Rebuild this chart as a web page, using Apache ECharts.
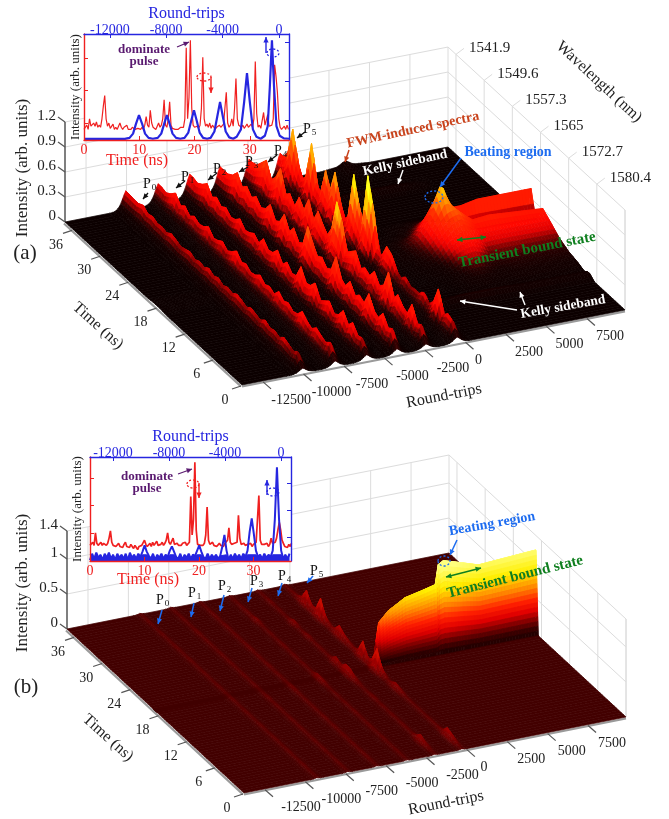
<!DOCTYPE html>
<html><head><meta charset="utf-8">
<style>html,body{margin:0;padding:0;background:#fff}#c{width:669px;height:819px}</style>
<script src="https://cdn.jsdelivr.net/npm/echarts@6/dist/echarts.min.js"></script>
</head><body><div id="c"></div>
<script>
// ---------- tick labels ----------
const timeTicks=[0,6,12,18,24,30,36];
const rtTicks=[-12500,-10000,-7500,-5000,-2500,0,2500,5000,7500];
const wavelengthLabels=['1541.9','1549.6','1557.3','1565','1572.7','1580.4'];
const wavelengthTimes=[36,30,24,18,12,6];
const intensityTicksA=[0,0.3,0.6,0.9,1.2];
const intensityTicksB=[0,0.5,1,1.4];
// ---------- panel (a): pulse position (round-trips) and intensity at t = 0..37 ns ----------
const ridgeRtA=[-10050,-8050,-6100,-4230,-2440,-520];
const ridgeA1=[.06,.2,.16,.19,.22,.17,.2,.18,.22,.17,.19,.21,.17,.2,.22,.18,.2,.17,.21,.18,.22,.18,.2,.17,.21,.19,.17,.2,.22,.18,.2,.19,.22,.2,.25,.22,.22,.23];
const ridgeA2=[.07,.24,.19,.22,.26,.2,.24,.3,.22,.2,.25,.22,.28,.2,.24,.21,.27,.22,.2,.25,.22,.3,.24,.2,.26,.22,.2,.28,.23,.21,.25,.2,.27,.22,.32,.26,.22,.24];
const ridgeA3=[.07,.22,.2,.3,.22,.34,.24,.2,.3,.25,.2,.36,.28,.26,.4,.24,.22,.3,.22,.34,.26,.24,.32,.22,.28,.24,.22,.3,.24,.22,.28,.24,.3,.25,.36,.3,.26,.28];
const ridgeA4=[.07,.26,.22,.34,.24,.28,.42,.26,.3,.24,.36,.26,.3,.5,.3,.26,.34,.3,.42,.55,.3,.26,.38,.28,.44,.3,.26,.4,.3,.26,.34,.28,.36,.3,.42,.34,.3,.3];
const ridgeA5=[.06,.24,.2,.38,.22,.26,.34,.24,.5,.3,.24,.36,.26,.3,.24,.4,.34,.28,.62,.78,.42,.28,.36,.46,.3,.5,.32,.42,.26,.36,.3,.55,.4,.32,.5,.42,.34,.32];
const ridgeA6=[.07,.22,.25,.18,.44,.24,.16,.22,.15,.18,.16,.22,.16,.2,.34,.38,.22,.24,.74,1.02,.4,.6,.88,.34,.24,.42,.7,.44,.62,.3,.36,.76,.34,.26,.42,.75,.42,.32];
// cross-section of a pulse ridge (offsets of 200 round-trips)
const pulseProfile=[0,.03,.08,.16,.3,.52,.8,1,.8,.52,.3,.16,.08,.03,0];
// transient hump and the two bound-state bars of panel (a)
const humpT=[8,10,12,14,16,17.5,19,20,21,22.5,25];
const humpRt=[500,1500,2500,3000,3500,4000,4500,5000,5500,6500,9850];
const humpRows=[
 [0,0,0,0,0,0,0,0,0,0,0],
 [0,0,0,.02,.03,.04,.04,.03,.03,.05,.05],
 [0,0,.01,.04,.08,.1,.1,.08,.07,.08,.08],
 [0,.01,.04,.1,.18,.22,.24,.2,.14,.15,.14],
 [0,.03,.1,.18,.28,.36,.4,.34,.25,.25,.24],
 [.01,.05,.13,.24,.38,.48,.5,.42,.34,.36,.31],
 [.01,.06,.16,.28,.46,.76,.5,.38,.14,.12,.1],
 [0,.05,.13,.22,.38,.54,.44,.38,.38,.42,.42],
 [0,.03,.07,.14,.22,.28,.24,.2,.18,.2,.2],
 [0,0,.03,.06,.1,.12,.1,.08,.06,.04,.03],
 [0,0,0,0,0,0,0,0,0,0,0]];
const kellyFrontRt=[-3000,0,2000,4000,6000,9850], kellyFrontAmp=[0,.05,.09,.09,.07,.06];
const kellyBackRt=[-3000,0,2500,5000,7000], kellyBackAmp=[0,.04,.08,.07,0];
const fwmRt=[2000,3000,3500,4000,5000], fwmAmp=[0,.02,.08,.02,0];
// ---------- panel (b) ----------
const ridgeRtB=[-9290,-7380,-5590,-3735,-2000,-340];
const ridgeB1=[.012,.015,.015,.02,.015,.015,.02,.015,.015,.02,.015,.015,.02,.015,.015,.02,.015,.015,.02,.015,.015,.02,.015,.015,.02,.015,.015,.02,.015,.015,.02,.015,.015,.02,.015,.015,.02,.015];
const ridgeB2=[.012,.015,.02,.015,.015,.02,.015,.02,.015,.015,.02,.015,.02,.015,.015,.02,.015,.025,.015,.015,.02,.015,.02,.015,.015,.02,.015,.02,.015,.015,.02,.015,.025,.015,.015,.02,.015,.015];
const ridgeB3=[.012,.015,.02,.02,.015,.02,.015,.02,.015,.02,.015,.025,.015,.02,.015,.02,.015,.025,.03,.02,.015,.02,.015,.025,.015,.02,.015,.025,.02,.015,.02,.015,.025,.015,.02,.02,.015,.015];
const ridgeB4=[.012,.015,.02,.015,.015,.02,.015,.015,.02,.015,.015,.025,.015,.02,.015,.02,.015,.02,.05,.06,.02,.015,.02,.015,.02,.015,.025,.02,.015,.02,.015,.02,.05,.02,.025,.02,.015,.015];
const ridgeB5=[.012,.02,.05,.11,.04,.015,.02,.02,.015,.02,.015,.02,.015,.03,.02,.015,.02,.05,.12,.12,.04,.1,.03,.015,.02,.02,.015,.04,.02,.015,.07,.02,.015,.02,.015,.03,.015,.015];
const ridgeB6=[.012,.03,.1,.13,.04,.02,.02,.02,.015,.02,.015,.02,.02,.05,.09,.04,.02,.12,.33,.12,.07,.25,.07,.03,.05,.1,.16,.06,.03,.1,.3,.1,.08,.23,.08,.03,.02,.02];
// crest of the transient bound-state wall in panel (b)
const wallRt=[-250,130,720,1760,2755,3630,3820,4130,5240,6300,9850];
const wallCrest=[0,.6,.74,.88,.93,.98,1.26,1.3,1.22,1.14,1.19];
// ---------- insets ----------
const insetTimeTicks=[0,10,20,30], insetRtTicks=[-12000,-8000,-4000,0];
const redA=[.1,.12,.14,.1, .2,.13,.12,.16, .13,.17,.12,.14, .12,.2,.32,.42, .2,.13,.16,.11, .12,.15,.1,.12, .1,.13,.16,.12, .1,.12,.11,.14, .1,.11,.1,.12, .11,.1,.09,.11, .11,.1,.12,.1, .14,.22,.14,.12, .28,.16,.12,.11, .1,.13,.16,.12, .14,.2,.38,.14, .12,.2,.36,.14, .11,.12,.1,.11, .1,.11,.12,.11, .12,.2,.87,.2, .4,.94,.3,.14, .12,.11,.13,.11, .14,.3,.78,.2, .13,.15,.12,.16, .11,.14,.12,.1, .12,.11,.14,.12, .13,.15,.3,.45, .16,.12,.14,.2, .13,.3,.58,.2, .14,.13,.12,.14, .11,.13,.15,.12, .13,.15,.12,.2, .74,.25,.12,.14, .11,.12,.26,.14, .13,.24,.13,.12, .14,.2,.71,.6, .45,.2,.12,.1, .11,.13,.1,.14, .1];
const blueARt=[-13830,-10930,-10600,-10350,-10150,-9930,-9700,-9500,-9250,-8950,-8600,-8350,-8150,-7950,-7750,-7550,-7300,-7000,-6700,-6430,-6230,-6030,-5830,-5630,-5380,-5100,-4850,-4580,-4380,-4180,-3980,-3780,-3530,-3250,-3000,-2700,-2470,-2270,-2070,-1850,-1600,-1300,-1000,-800,-650,-500,-350,-180,50,350,710];
const blueAI=[.01,.01,.02,.06,.15,.235,.15,.06,.02,.012,.02,.06,.15,.235,.15,.06,.02,.012,.02,.07,.18,.28,.18,.07,.02,.012,.02,.08,.22,.36,.22,.08,.025,.012,.03,.1,.36,.63,.36,.1,.03,.012,.04,.13,.5,.94,.5,.13,.04,.015,.012];
const redB=[.15,.16,.18,.15, .27,.17,.15,.16, .18,.15,.17,.16, .15,.17,.22,.29, .18,.15,.16,.14, .15,.17,.14,.15, .13,.16,.18,.14, .15,.13,.16,.14, .12,.15,.13,.11, .14,.13,.15,.16, .2,.16,.14,.15, .17,.14,.18,.15, .16,.19,.15,.14, .16,.18,.15,.17, .2,.27,.18,.16, .17,.22,.16,.15, .17,.15,.16,.15, .17,.16,.18,.15, .16,.18,.62,.25, .4,.95,.3,.16, .17,.15,.16,.15, .17,.25,.52,.2, .16,.15,.18,.15, .16,.14,.15,.17, .15,.16,.14,.17, .16,.2,.32,.18, .16,.15,.17,.16, .18,.44,.22,.16, .15,.17,.15,.14, .16,.15,.17,.14, .16,.15,.18,.17, .63,.2,.16,.15, .16,.15,.17,.14, .16,.22,.17,.16, .18,.22,.3,.37, .3,.2,.17,.14, .15,.13,.16,.14, .17];
const blueBI=[.01,.07,.02,.08,.03,.06,.01,.07,.03,.08,.02,.06,.01,.07,.03,.06,.02,.07,.01,.08,.03,.06,.02,.07,.04,.09,.15,.09,.05,.02,.07,.01,.06,.03,.07,.02,.06,.04,.1,.14,.09,.04,.02,.07,.01,.06,.03,.07,.02,.06,.05,.1,.15,.09,.04,.02,.07,.02,.06,.03,.06,.02,.05,.14,.25,.1,.01,.06,.02,.07,.03,.06,.02,.07,.04,.1,.28,.41,.26,.1,.04,.06,.02,.07,.03,.06,.04,.1,.4,.9,.4,.1,.02,.06,.02,.07];
// height of the solid noise floor of the blue trace in inset (b)
const blueBFloor=.06;

// ---------- layout and scales ----------
const FONT='"Liberation Serif","Times New Roman",serif';
const RT_MIN=-13800, RT_MAX=9850, T_MAX=37.7;
const panelA={ox:242,oy:385,ax:383,ay:75,bx:177,by:163,zs:83.3,zTop:1.2};
const panelB={ox:244,oy:793,ax:382,ay:76,bx:177,by:164,zs:70,zTop:1.4};
function project(p,t,rt,z){const a=(rt-RT_MIN)/(RT_MAX-RT_MIN),b=t/T_MAX;return [p.ox+a*p.ax-b*p.bx,p.oy-a*p.ay-b*p.by-z*p.zs];}
function lerp1(xs,ys,x){if(x<=xs[0])return ys[0];const n=xs.length-1;if(x>=xs[n])return ys[n];let i=0;while(x>xs[i+1])i++;return ys[i]+(ys[i+1]-ys[i])*(x-xs[i])/(xs[i+1]-xs[i]);}
function sampleByNs(arr,t){const i=Math.min(Math.floor(t),arr.length-1),j=Math.min(i+1,arr.length-1);return arr[i]+(arr[j]-arr[i])*(t-i);}
function profileAt(d){const k=d/200+7;if(k<=0||k>=14)return 0;const i=Math.floor(k);return pulseProfile[i]+(pulseProfile[i+1]-pulseProfile[i])*(k-i);}
function humpAt(t,rt){if(t<=humpT[0]||t>=humpT[humpT.length-1])return 0;const col=humpRows.map(r=>lerp1(humpRt,r,rt));return lerp1(humpT,col,t);}
const ridgesA=[ridgeA1,ridgeA2,ridgeA3,ridgeA4,ridgeA5,ridgeA6];
const ridgesB=[ridgeB1,ridgeB2,ridgeB3,ridgeB4,ridgeB5,ridgeB6];
function zA(t,rt){let z=0;
  ridgesA.forEach((r,i)=>{const p=profileAt((rt-ridgeRtA[i])*1.7);if(p>0)z+=p*sampleByNs(r,t);});
  const kf=Math.max(0,1-Math.abs(t-7.7)/1.2),kb=Math.max(0,1-Math.abs(t-31.3)/1.2);
  if(kf>0)z+=kf*lerp1(kellyFrontRt,kellyFrontAmp,rt);
  if(kb>0)z+=kb*lerp1(kellyBackRt,kellyBackAmp,rt);
  if(t>34)z+=(t-34)/3.7*lerp1(fwmRt,fwmAmp,rt);
  const h=humpAt(t,rt);return Math.max(z,h);}
function wallFrac(t){return lerp1([18.7,19.15,19.25,19.5],[0,1,1,0],t);}
function zB(t,rt){let z=0;
  ridgesB.forEach((r,i)=>{const p=profileAt((rt-ridgeRtB[i])*3.5);if(p>0)z+=p*sampleByNs(r,t);});
  if(rt>-250&&t>18.7&&t<19.5)z=Math.max(z,wallFrac(t)*lerp1(wallRt,wallCrest,rt));
  return z;}
function makeMap(st){const c=st.map(s=>[s[0],parseInt(s[1].slice(1,3),16),parseInt(s[1].slice(3,5),16),parseInt(s[1].slice(5,7),16)]);
  return z=>{if(z<=c[0][0])return st[0][1];let i=0;const n=c.length-1;if(z>=c[n][0])return st[n][1];while(z>c[i+1][0])i++;const f=(z-c[i][0])/(c[i+1][0]-c[i][0]);
    return 'rgb('+[1,2,3].map(k=>Math.round(c[i][k]+(c[i+1][k]-c[i][k])*f)).join(',')+')';};}
const colorA=makeMap([[0,'#0c0000'],[.06,'#140000'],[.1,'#2a0000'],[.15,'#780000'],[.2,'#e00000'],[.26,'#ff0800'],[.42,'#ff2c00'],[.55,'#ff8000'],[.68,'#ffc800'],[.8,'#ffff00'],[1.05,'#ffff60']]);
const colorB=makeMap([[0,'#420000'],[.015,'#5c0000'],[.03,'#6c0000'],[.06,'#800000'],[.12,'#a00000'],[.25,'#d01000'],[.4,'#ff2000']]);
const colorWall=makeMap([[0,'#340000'],[.05,'#1c0000'],[.2,'#700000'],[.35,'#e00000'],[.5,'#ff2000'],[.7,'#ff9000'],[.92,'#ffee00'],[1.22,'#ffff80']]);
function rtColumns(extra){const s=new Set();for(let r=RT_MIN;r<RT_MAX;r+=197)s.add(r);s.add(RT_MAX);extra.forEach(v=>s.add(v));return [...s].sort((a,b)=>a-b);}
function buildCells(zf,tRows,cols,colorOf){const cells=[];
  for(let i=tRows.length-2;i>=0;i--){const t0=tRows[i],t1=tRows[i+1];
    let j=cols.length-2;
    while(j>=0){
      let r1=cols[j+1],r0=cols[j];
      const z11=zf(t1,r1),z01=zf(t0,r1);let z10=zf(t1,r0),z00=zf(t0,r0);
      if(z11===0&&z01===0&&z10===0&&z00===0){while(j>0&&zf(t1,cols[j-1])===0&&zf(t0,cols[j-1])===0){j--;}r0=cols[j];}
      const avg=(z00+z01+z10+z11)/4;
      cells.push({t0,t1,r0,r1,z00,z01,z10,z11,c:colorOf(avg,t0,t1,r0)});
      j--;}
  }return cells;}
const rowsA=[];for(let t=0;t<37.5;t+=.5)rowsA.push(t);rowsA.push(T_MAX);
const rowsB=[];for(let t=0;t<18.6;t+=.5)rowsB.push(t);for(let t=18.6;t<19.3;t+=.025)rowsB.push(+t.toFixed(3));for(let t=19.5;t<37.5;t+=.5)rowsB.push(t);rowsB.push(T_MAX);
function denser(centres,reach,step){const o=[];centres.forEach(c=>{for(let d=-reach;d<=reach;d+=step)o.push(c+d);});return o;}
const cellsA=buildCells(zA,rowsA,rtColumns(denser(ridgeRtA,800,100)),z=>colorA(z));
const cellsB=buildCells(zB,rowsB,rtColumns(denser(ridgeRtB,400,100).concat(wallRt)),(z,t0,t1,r0)=>(t0>=18.6&&t1<=19.35&&r0>-260)?colorWall(z):colorB(z));

function surfaceSeries(p,cells){return {type:'custom',coordinateSystem:'cartesian2d',xAxisIndex:0,yAxisIndex:0,z:2,silent:true,clip:false,progressive:0,animation:false,
  data:cells.map((c,i)=>[i]),
  renderItem(params,api){const c=cells[params.dataIndex];
    const pts=[project(p,c.t0,c.r0,c.z00),project(p,c.t0,c.r1,c.z01),project(p,c.t1,c.r1,c.z11),project(p,c.t1,c.r0,c.z10)].map(q=>api.coord(q));
    return {type:'polygon',shape:{points:pts},style:{fill:c.c,stroke:c.c,lineWidth:.7}};}};}

function frameItems(p,zTicks,opt){const items=[];const W='#dcdcdc',D='#555',G='#9a9a9a';
  const seg=(a,b,col,w)=>items.push({seg:[a,b],col,w});
  const txt=(q,text,size,align,col)=>items.push({q,text,size,align,col:col||'#222'});
  zTicks.forEach(v=>{seg(project(p,T_MAX,RT_MIN,v),project(p,T_MAX,RT_MAX,v),W,1);seg(project(p,T_MAX,RT_MAX,v),project(p,0,RT_MAX,v),W,1);});
  rtTicks.forEach(r=>seg(project(p,T_MAX,r,0),project(p,T_MAX,r,p.zTop),W,1));
  seg(project(p,T_MAX,RT_MAX,0),project(p,T_MAX,RT_MAX,p.zTop),W,1);
  timeTicks.forEach(t=>seg(project(p,t,RT_MAX,0),project(p,t,RT_MAX,p.zTop),W,1));
  seg(project(p,0,RT_MAX,0),project(p,0,RT_MAX,p.zTop),W,1);
  seg(project(p,T_MAX,RT_MIN,0),project(p,T_MAX,RT_MIN,p.zTop),D,1.5);
  zTicks.forEach(v=>{const q=project(p,T_MAX,RT_MIN,v);seg(q,[q[0]-7,q[1]-5],D,1.2);txt([q[0]-9,q[1]-6],String(v),15,'right');});
  const a0=project(p,0,RT_MIN,0),a1=project(p,0,RT_MAX,0),a2=project(p,T_MAX,RT_MIN,0);
  seg([a0[0],a0[1]+1.5],[a1[0],a1[1]+1.5],G,2.2);
  seg([a0[0]-1,a0[1]+1.5],[a2[0]-1,a2[1]+1.5],G,2.2);
  timeTicks.forEach(t=>{const q=project(p,t,RT_MIN,0);seg([q[0]-1,q[1]+1],[q[0]-10,q[1]+4],D,1.2);txt([q[0]-17,q[1]+15.5],String(t),14,'center');});
  rtTicks.forEach(r=>{const q=project(p,0,r,0);seg([q[0],q[1]+1],[q[0]+8,q[1]+8],D,1.2);
    const dx=r===0?opt.dx0:(r<0?opt.dxNeg:opt.dxPos);txt([q[0]+dx,q[1]+19],String(r),14,'center');});
  if(opt.wave)wavelengthLabels.forEach((l,i)=>{const q=project(p,wavelengthTimes[i],RT_MAX,p.zTop);seg(q,[q[0]+8,q[1]-6],W,1);txt([q[0]+13,q[1]-6],l,15,'left');});
  return items;}
function frameSeries(items){return {type:'custom',coordinateSystem:'cartesian2d',xAxisIndex:0,yAxisIndex:0,z:1,silent:true,clip:false,animation:false,progressive:0,
  data:items.map((c,i)=>[i]),
  renderItem(params,api){const it=items[params.dataIndex];
    if(it.seg){const a=api.coord(it.seg[0]),b=api.coord(it.seg[1]);return {type:'line',shape:{x1:a[0],y1:a[1],x2:b[0],y2:b[1]},style:{stroke:it.col,lineWidth:it.w}};}
    const q=api.coord(it.q);return {type:'text',x:q[0],y:q[1],style:{text:it.text,fill:it.col,font:it.size+'px '+FONT,align:it.align,verticalAlign:'middle',textAlign:it.align,textVerticalAlign:'middle'}};}};}

// ---------- annotations ----------
const gfx=[];
function T(x,y,s,size,col,opt){opt=opt||{};gfx.push({type:'text',x,y,rotation:(opt.rot||0)*Math.PI/180,z:20,silent:true,style:{text:s,fill:col,font:(opt.bold?'bold ':'')+size+'px '+FONT,align:'center',verticalAlign:'middle',textAlign:'center',textVerticalAlign:'middle'}});}
function head(x,y,ang,col,s){gfx.push({type:'polygon',z:20,silent:true,shape:{points:[[x,y],[x-s*Math.cos(ang-.45),y-s*Math.sin(ang-.45)],[x-s*Math.cos(ang+.45),y-s*Math.sin(ang+.45)]]},style:{fill:col}});}
function A(x1,y1,x2,y2,col,w,dbl,s){s=s||6;const ang=Math.atan2(y2-y1,x2-x1);gfx.push({type:'line',z:20,silent:true,shape:{x1,y1,x2,y2},style:{stroke:col,lineWidth:w||1.3}});head(x2,y2,ang,col,s);if(dbl)head(x1,y1,ang+Math.PI,col,s);}
function E(cx,cy,rx,ry,col){gfx.push({type:'ellipse',z:20,silent:true,shape:{cx,cy,rx,ry},style:{fill:'transparent',stroke:col,lineWidth:1.3,lineDash:[2,2]}});}
function P(x,y,n){T(x,y,'P',14,'#111');T(x+7,y+4,String(n),9,'#111');}
const PURPLE='#5a1a70',GREEN='#0f7f1f',BLUE='#1d6cf0',RED='#f02020',IBLUE='#2626e0',BROWN='#c9431c';
T(25,253,'(a)',21,'#222');T(26,687,'(b)',21,'#222');
T(23,168,'Intensity (arb. units)',17,'#222',{rot:90});T(23,583,'Intensity (arb. units)',17,'#222',{rot:90});
T(98,326,'Time (ns)',16,'#222',{rot:-42});T(108,738,'Time (ns)',16,'#222',{rot:-42});
T(444,396,'Round-trips',16,'#222',{rot:11});T(446,803,'Round-trips',16,'#222',{rot:11});
T(599,82,'Wavelength (nm)',16,'#222',{rot:-43});
T(137,161,'Time (ns)',16,RED);T(148,580,'Time (ns)',16,RED);
[[150,184,0,148,193,143,199],[188,177,1,185,181,176,188],[220,169,2,217,173,208,180],[252,162,3,248,167,239,172],[281,151,4,277,155,268,162],[310,129,5,305,132,297,138]].forEach(a=>{P(a[0]-3,a[1],a[2]);A(a[3],a[4],a[5],a[6],'#111',1.3);});
[[163,600,0,162,610,158,624],[195,593,1,194,603,191,617],[225,586,2,224,595,220,611],[257,581,3,252,588,248,602],[285,576,4,282,583,278,596],[317,571,5,313,576,307,583]].forEach(a=>{P(a[0]-3,a[1],a[2]);A(a[3],a[4],a[5],a[6],BLUE,1.5);});
T(144,50,'dominate',13,PURPLE,{bold:true});T(144,62,'pulse',13,PURPLE,{bold:true});A(177,47,189,42,PURPLE,1.2);
E(204,77,7,4,RED);A(211,77,211,93,RED,1.4);E(273,53,6,4,IBLUE);A(266,53,266,37,IBLUE,1.4);
T(147,477,'dominate',13,PURPLE,{bold:true});T(147,489,'pulse',13,PURPLE,{bold:true});A(178,474,192,469,PURPLE,1.2);
E(193,484,6,4,RED);A(199,483,199,498,RED,1.4);E(273,492,6,4,IBLUE);A(267,495,267,480,IBLUE,1.4);
T(413,130,'FWM-induced spectra',14,BROWN,{bold:true,rot:12});A(349,150,345,162,BROWN,1.5);
T(405,163,'Kelly sideband',13.5,'#fff',{bold:true,rot:12});A(403,170,398,184,'#fff',1.4);
T(508,152,'Beating region',14,BLUE,{bold:true});A(461,158,440,187,BLUE,1.5);E(434,197,9,6,BLUE);
A(457,240,486,237,GREEN,1.5,true);T(527,250,'Transient bound state',15,GREEN,{bold:true,rot:11});
T(563,307,'Kelly sideband',13.5,'#fff',{bold:true,rot:10});A(517,310,460,301,'#fff',1.4);A(525,305,520,292,'#fff',1.4);
T(492,524,'Beating region',14,BLUE,{bold:true,rot:10});A(457,540,450,555,BLUE,1.5);E(444,561,6,5,BLUE);
A(446,577,481,568,GREEN,1.5,true);T(515,577,'Transient bound state',15,GREEN,{bold:true,rot:14});

// ---------- insets: axes ----------
const axisFont={fontFamily:FONT,fontSize:14};
function tAxis(g,max){return {type:'value',gridIndex:g,position:'bottom',min:0,max,z:7,
  axisLine:{onZero:false,lineStyle:{color:RED,width:1.4}},splitLine:{show:false},
  axisTick:{inside:true,length:4,customValues:insetTimeTicks,lineStyle:{color:RED}},
  axisLabel:{...axisFont,color:RED,margin:3,customValues:insetTimeTicks,formatter:v=>String(v)}};}
function rAxis(g,min,max,gap){return {type:'value',gridIndex:g,position:'top',min,max,z:7,name:'Round-trips',nameLocation:'middle',nameGap:gap,nameTextStyle:{color:IBLUE,fontFamily:FONT,fontSize:16},
  axisLine:{onZero:false,lineStyle:{color:IBLUE,width:1.4}},splitLine:{show:false},
  axisTick:{inside:true,length:4,customValues:insetRtTicks,lineStyle:{color:IBLUE}},
  axisLabel:{...axisFont,color:IBLUE,margin:-3,customValues:insetRtTicks,formatter:v=>String(v)}};}
function lAxis(g,ticks,gap){return {type:'value',gridIndex:g,position:'left',min:0,max:1,z:7,name:'Intensity (arb. units)',nameLocation:'middle',nameGap:gap,nameTextStyle:{color:'#222',fontFamily:FONT,fontSize:13},
  axisLine:{onZero:false,lineStyle:{color:RED,width:1.4}},splitLine:{show:false},
  axisTick:{inside:true,length:4,customValues:ticks,lineStyle:{color:RED}},axisLabel:{show:false}};}
function hAxis(g,ticks){return {type:'value',gridIndex:g,position:'right',min:0,max:1,z:7,
  axisLine:{onZero:false,lineStyle:{color:IBLUE,width:1.4}},splitLine:{show:false},
  axisTick:{inside:true,length:4,customValues:ticks,lineStyle:{color:IBLUE}},axisLabel:{show:false}};}
function lineS(xi,yi,data,col,w){return {type:'line',xAxisIndex:xi,yAxisIndex:yi,data,showSymbol:false,symbol:'none',z:6,silent:true,clip:true,animation:false,lineStyle:{color:col,width:w},itemStyle:{color:col}};}

const redPairsA=redA.map((v,i)=>[i*.25,v]);
const redPairsB=redB.map((v,i)=>[i*.25,v]);
const bluePairsA=blueARt.map((r,i)=>[r,blueAI[i]]);
const bluePairsB=blueBI.map((v,i)=>[-13640+i*150,v]);
const blueFloorPairs=bluePairsB.filter(q=>q[1]<=.1).map(q=>[q[0],Math.min(q[1],blueBFloor)]);

const chart=echarts.init(document.getElementById('c'),null,{renderer:'canvas'});
chart.setOption({animation:false,backgroundColor:'#fff',
  grid:[{left:0,top:0,width:669,height:819,show:false},
    {left:84,top:34,width:205,height:106,show:true,backgroundColor:'#fff',borderWidth:0,z:3},
    {left:90,top:457,width:201,height:104,show:true,backgroundColor:'#fff',borderWidth:0,z:3}],
  xAxis:[{type:'value',gridIndex:0,min:0,max:669,show:false},tAxis(1,37.1),rAxis(1,-13830,710,10),tAxis(2,36.9),rAxis(2,-13640,714,12)],
  yAxis:[{type:'value',gridIndex:0,min:0,max:819,inverse:true,show:false},lAxis(1,[.16,.47,.77],2),hAxis(1,[.19,.55,.92]),lAxis(2,[.27,.54,.8],6),hAxis(2,[.23,.49,.75])],
  series:[
    frameSeries(frameItems(panelA,intensityTicksA,{wave:true,dx0:13,dxNeg:28,dxPos:23})),
    frameSeries(frameItems(panelB,intensityTicksB,{wave:false,dx0:17,dxNeg:36,dxPos:24})),
    surfaceSeries(panelA,cellsA),surfaceSeries(panelB,cellsB),
    lineS(1,1,redPairsA,RED,1.2),lineS(2,2,bluePairsA,IBLUE,2.2),
    lineS(3,3,redPairsB,RED,1.7),lineS(4,4,bluePairsB,IBLUE,2),
    Object.assign(lineS(4,4,blueFloorPairs,IBLUE,1),{areaStyle:{color:IBLUE,opacity:1}})],
  graphic:{elements:gfx}
});
</script></body></html>
